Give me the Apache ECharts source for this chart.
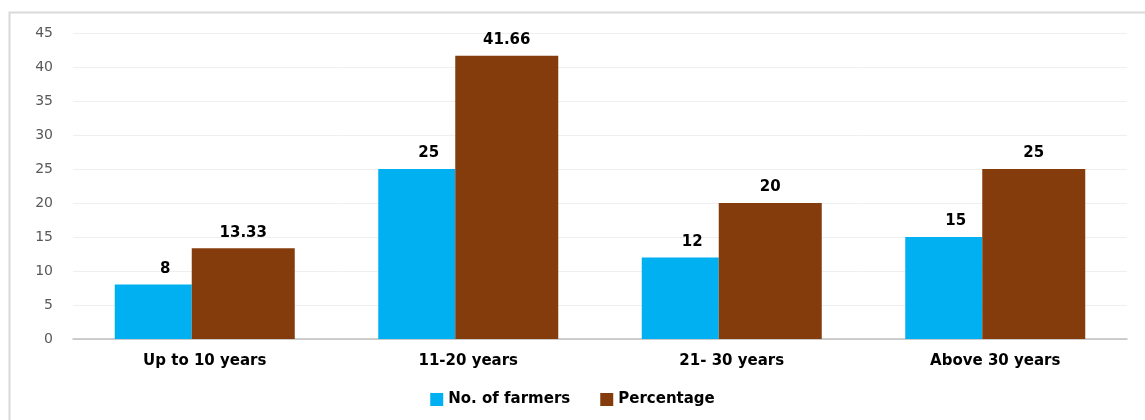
<!DOCTYPE html>
<html><head><meta charset="utf-8">
<script src="https://cdn.jsdelivr.net/npm/echarts@6/dist/echarts.min.js"></script>
<style>html,body{margin:0;padding:0;background:#fff}#c{width:1145px;height:420px}</style>
</head><body><div id="c"></div>
<script>
const categories = ['Up to 10 years', '11-20 years', '21- 30 years', 'Above 30 years'];
const farmers = [8, 25, 12, 15];
const percentage = [13.33, 41.66, 20, 25];
const seriesNames = ['No. of farmers', 'Percentage'];

const chart = echarts.init(document.getElementById('c'));
const labelStyle = {show: true, position: 'top', distance: 8, color: '#000', fontFamily: 'DejaVu Sans', fontWeight: 'bold', fontSize: 15};
chart.setOption({
  animation: false,
  graphic: [{type: 'rect', shape: {x: 9.5, y: 12.5, width: 1150, height: 420}, style: {fill: 'none', stroke: '#d9d9d9', lineWidth: 2}, silent: true}],
  grid: {left: 73, right: 18, top: 33, bottom: 81},
  legend: {
    bottom: 8, left: 'center', itemWidth: 13, itemHeight: 13, itemGap: 30, icon: 'rect',
    itemStyle: {borderWidth: 0},
    textStyle: {fontFamily: 'DejaVu Sans', fontWeight: 'bold', fontSize: 15, color: '#000'},
    data: seriesNames
  },
  xAxis: {
    type: 'category', data: categories,
    axisLine: {lineStyle: {color: '#bfbfbf', width: 1.5}},
    axisTick: {show: false},
    axisLabel: {color: '#000', fontFamily: 'DejaVu Sans', fontWeight: 'bold', fontSize: 15, margin: 15}
  },
  yAxis: {
    type: 'value', min: 0, max: 45, interval: 5,
    axisLine: {show: false}, axisTick: {show: false},
    splitLine: {lineStyle: {color: '#efefef'}},
    axisLabel: {color: '#595959', fontFamily: 'DejaVu Sans', fontSize: 14, margin: 20, align: 'right'}
  },
  series: [
    {name: seriesNames[0], type: 'bar', data: farmers, barWidth: 77, barGap: '0%', itemStyle: {color: '#00b0f0'}, label: Object.assign({}, labelStyle, {offset: [12, 0]})},
    {name: seriesNames[1], type: 'bar', data: percentage, barWidth: 103, barGap: '0%', itemStyle: {color: '#843c0c'}, label: labelStyle}
  ]
});
</script></body></html>
